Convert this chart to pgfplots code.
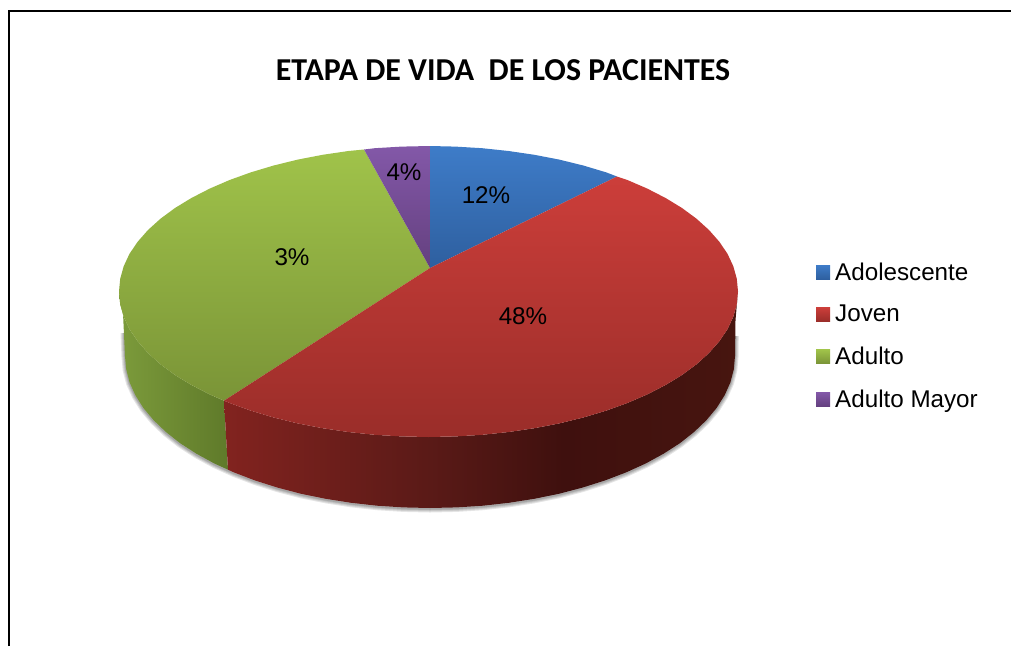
\documentclass[border=0pt]{standalone}
\usepackage{fontspec}
\setmainfont{Liberation Sans}
\newfontfamily\titlefont{Carlito}
\usepackage{pgfplots}
\pgfplotsset{compat=1.18}
\definecolor{rs0}{HTML}{82231F}
\definecolor{rs1}{HTML}{5A1A17}
\definecolor{rs2}{HTML}{3F100E}
\definecolor{rs3}{HTML}{47150F}
\definecolor{gs0}{HTML}{7C9B3B}
\definecolor{gs1}{HTML}{5F7A2A}
\definecolor{bT}{HTML}{3E7CC8}
\definecolor{bB}{HTML}{2E5F9F}
\definecolor{rT}{HTML}{CC3E3A}
\definecolor{rB}{HTML}{9A2D29}
\definecolor{gT}{HTML}{A0C34A}
\definecolor{gB}{HTML}{7A9437}
\definecolor{pT}{HTML}{8358A8}
\definecolor{pB}{HTML}{64407F}
\pgfdeclarehorizontalshading{redside}{100bp}{color(0bp)=(rs0); color(25bp)=(rs0); color(45bp)=(rs1); color(58bp)=(rs2); color(75bp)=(rs3); color(100bp)=(rs3)}
\pgfdeclarehorizontalshading{greenside}{100bp}{color(0bp)=(gs0); color(25bp)=(gs0); color(75bp)=(gs1); color(100bp)=(gs1)}
\begin{document}
\begin{tikzpicture}[x=1pt,y=1pt]
\path[use as bounding box] (0,0) rectangle (1011,646);
\begin{axis}[
  at={(0,0)}, anchor=south west,
  scale only axis, width=1011pt, height=646pt,
  xmin=0, xmax=1011, ymin=0, ymax=646, y dir=reverse,
  hide axis, clip=false,
  /pgf/number format/assume math mode=true,
  legend style={at={(axis cs:816,260.5)}, anchor=north west, draw=none, fill=none,
    font=\fontsize{24.2}{25}\selectfont, row sep=19.6pt,
    inner xsep=0pt, inner ysep=0pt,
    /tikz/every even column/.append style={column sep=0pt}},
  legend cell align=left,
  legend image code/.code={\path[draw=none,#1,draw=none] (0pt,-7pt) rectangle (14pt,7pt);},
]
% frame
\addplot[forget plot, black, line width=2pt] coordinates {(8.5,646)(8.5,10.5)(1011,10.5)};
% soft shadow below the pie
\pgfplotsinvokeforeach{7,5,3,1.5}{
\addplot[forget plot, draw=black, opacity=0.10, line width=#1pt, yshift=-1pt] coordinates {(124,332)(125,356)(126.2,369.3)(129.6,382.4)(135.4,395.3)(143.4,408)(153.6,420.2)(165.9,432)(180.1,443.2)(196.4,453.7)(214.3,463.5)(233.9,472.4)(255.1,480.5)(277.5,487.6)(301.1,493.8)(325.7,498.8)(351.1,502.8)(377.1,505.7)(403.4,507.4)(430,508)(456.6,507.4)(482.9,505.7)(508.9,502.8)(534.3,498.8)(558.9,493.8)(582.5,487.6)(604.9,480.5)(626.1,472.4)(645.7,463.5)(663.6,453.7)(679.9,443.2)(694.1,432)(706.4,420.2)(716.6,408)(724.6,395.3)(730.4,382.4)(733.8,369.3)(735,356)(735.3,335)};
}
% green side
\addplot[forget plot, draw=none, shade, shading=greenside] coordinates {(224,400.7)(209.7,394.4)(191.4,385)(175,375)(160.5,364.3)(148,353)(137.7,341.3)(129.5,329.2)(123.7,316.8)(120.2,304.2)(119,291.5)(123,313)(125,356)(126.2,369.3)(129.6,382.4)(135.4,395.3)(143.4,408)(153.6,420.2)(165.9,432)(180.1,443.2)(196.4,453.7)(214.3,463.5)(228,469.7)(224,400.7)};
% red side
\addplot[forget plot, draw=none, shade, shading=redside] coordinates {(224,400.7)(229.6,403)(251,410.7)(273.7,417.5)(297.7,423.4)(322.6,428.2)(348.4,432)(374.8,434.8)(401.5,436.4)(428.5,437)(455.5,436.4)(482.2,434.8)(508.6,432)(534.4,428.2)(559.3,423.4)(583.3,417.5)(606,410.7)(627.4,403)(647.3,394.4)(665.6,385)(682,375)(696.5,364.3)(709,353)(719.3,341.3)(727.5,329.2)(733.3,316.8)(736.8,304.2)(738,291.5)(735.5,320)(735,356)(733.8,369.3)(730.4,382.4)(724.6,395.3)(716.6,408)(706.4,420.2)(694.1,432)(679.9,443.2)(663.6,453.7)(645.7,463.5)(626.1,472.4)(604.9,480.5)(582.5,487.6)(558.9,493.8)(534.3,498.8)(508.9,502.8)(482.9,505.7)(456.6,507.4)(430,508)(403.4,507.4)(377.1,505.7)(351.1,502.8)(325.7,498.8)(301.1,493.8)(277.5,487.6)(255.1,480.5)(233.9,472.4)(228,469.7)(224,400.7)};
% green top
\addplot[forget plot, draw=none, shade, top color=gT, bottom color=gB] coordinates {(430,268)(224,400.7)(209.7,394.4)(191.4,385)(175,375)(160.5,364.3)(148,353)(137.7,341.3)(129.5,329.2)(123.7,316.8)(120.2,304.2)(119,291.5)(120.2,278.8)(123.7,266.2)(129.5,253.8)(137.7,241.7)(148,230)(160.5,218.7)(175,208)(191.4,198)(209.7,188.6)(229.6,180)(251,172.3)(273.7,165.5)(297.7,159.6)(322.6,154.8)(348.4,151)(364,149.5)(430,268)};
% purple top
\addplot[forget plot, draw=none, shade, top color=pT, bottom color=pB] coordinates {(430,268)(364,149.5)(374.8,148.2)(401.5,146.6)(430,146)(430,268)};
% blue top
\addplot[forget plot, draw=none, shade, top color=bT, bottom color=bB] coordinates {(430,268)(430,146)(455.5,146.6)(482.2,148.2)(508.6,151)(534.4,154.8)(559.3,159.6)(583.3,165.5)(606,172.3)(617,176.5)(430,268)};
% red top
\addplot[forget plot, draw=none, shade, top color=rT, bottom color=rB] coordinates {(430,268)(617,176.5)(627.4,180)(647.3,188.6)(665.6,198)(682,208)(696.5,218.7)(709,230)(719.3,241.7)(727.5,253.8)(733.3,266.2)(736.8,278.8)(738,291.5)(736.8,304.2)(733.3,316.8)(727.5,329.2)(719.3,341.3)(709,353)(696.5,364.3)(682,375)(665.6,385)(647.3,394.4)(627.4,403)(606,410.7)(583.3,417.5)(559.3,423.4)(534.4,428.2)(508.6,432)(482.2,434.8)(455.5,436.4)(428.5,437)(401.5,436.4)(374.8,434.8)(348.4,432)(322.6,428.2)(297.7,423.4)(273.7,417.5)(251,410.7)(229.6,403)(224,400.7)(430,268)};
% data labels
\addplot[forget plot, only marks, mark=none, point meta=explicit,
  nodes near coords={\pgfmathprintnumber[assume math mode=true]{\pgfplotspointmeta}\%},
  every node near coord/.style={anchor=center, inner sep=0pt, text=black, font=\fontsize{24.2}{25}\selectfont}]
  table[meta=v] {
x y v
486 195 12
523 316 48
292 257 3
404 172 4
};
% title
\node[font=\titlefont\bfseries\fontsize{31.9}{33}\selectfont, anchor=center] at (axis cs:503,70) {ETAPA DE VIDA\ \ DE LOS PACIENTES};
% legend
\addlegendimage{shade, top color=bT, bottom color=bB}
\addlegendentry{\kern3ptAdolescente}
\addlegendimage{shade, top color=rT, bottom color=rB}
\addlegendentry{\kern3ptJoven}
\addlegendimage{shade, top color=gT, bottom color=gB}
\addlegendentry{\kern3ptAdulto}
\addlegendimage{shade, top color=pT, bottom color=pB}
\addlegendentry{\kern3ptAdulto Mayor}
\end{axis}
\end{tikzpicture}
\end{document}
